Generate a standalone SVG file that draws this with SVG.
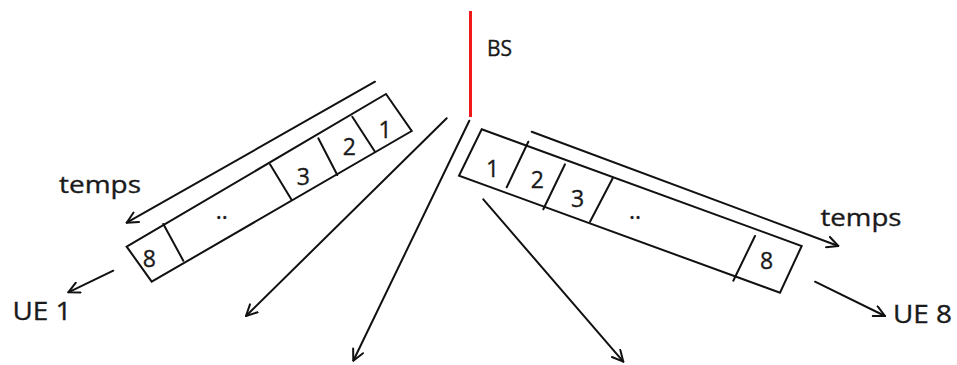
<svg xmlns="http://www.w3.org/2000/svg" width="957" height="365" viewBox="0 0 957 365">
<style>
.ln{stroke:#111;stroke-width:2;fill:none;stroke-linecap:round}
.box{stroke:#111;stroke-width:2;fill:#fff;stroke-linejoin:miter}
.t{font-family:"Open Sans","Liberation Sans",sans-serif;fill:#1a1a1a;stroke:#1a1a1a;stroke-width:0.35}
.d{font-size:23px;text-anchor:middle}
.lbl{font-size:24px}
</style>
<defs>
<marker id="ah" viewBox="0 0 13 13" refX="12" refY="6.5" markerWidth="13" markerHeight="13" markerUnits="userSpaceOnUse" orient="auto">
<path d="M1,1 L12,6.5 L1,12" fill="none" stroke="#111" stroke-width="2" stroke-linecap="round" stroke-linejoin="round"/>
</marker>
</defs>
<rect width="957" height="365" fill="#fff"/>

<g id="bs">
<line x1="470.5" y1="11" x2="470.5" y2="117" stroke="#f01818" stroke-width="3"/>
<text class="t" x="487" y="56" font-size="21">BS</text>
</g>

<g id="connectors">
<line class="ln" x1="375" y1="81.7" x2="126.7" y2="222.7" marker-end="url(#ah)"/>
<line class="ln" x1="531.7" y1="131.7" x2="838.3" y2="246" marker-end="url(#ah)"/>
<line class="ln" x1="113.3" y1="270.7" x2="68.3" y2="292.3" marker-end="url(#ah)"/>
<line class="ln" x1="815" y1="281.7" x2="885" y2="316" marker-end="url(#ah)"/>
<line class="ln" x1="446.7" y1="118.3" x2="246" y2="316" marker-end="url(#ah)"/>
<line class="ln" x1="469.3" y1="120.7" x2="353.3" y2="360.7" marker-end="url(#ah)"/>
<line class="ln" x1="483.3" y1="199.3" x2="623.3" y2="361.7" marker-end="url(#ah)"/>
</g>

<g id="left-box">
<polygon class="box" points="126.7,246.7 386,94 411.7,131 151.7,281.7"/>
<line class="ln" x1="163.3" y1="224" x2="183.3" y2="260.7"/>
<line class="ln" x1="270" y1="164.3" x2="291.7" y2="200"/>
<line class="ln" x1="318.3" y1="138.3" x2="337.3" y2="175"/>
<line class="ln" x1="352.3" y1="116.7" x2="375" y2="151.7"/>
<text class="t d" x="385" y="137.5">1</text>
<text class="t d" x="349.3" y="155">2</text>
<text class="t d" x="303.3" y="184.5">3</text>
<text class="t d" x="221.7" y="219">..</text>
<text class="t d" x="149.3" y="266.5">8</text>
</g>

<g id="right-box">
<polygon class="box" points="481.7,129.3 801.7,246 780,292.7 459,175.7"/>
<line class="ln" x1="528.3" y1="141.7" x2="506.7" y2="187.3"/>
<line class="ln" x1="565" y1="164.3" x2="543.3" y2="209.3"/>
<line class="ln" x1="612.7" y1="178.3" x2="590" y2="221.7"/>
<line class="ln" x1="755" y1="236" x2="733.3" y2="280.7"/>
<text class="t d" x="492.7" y="176.5">1</text>
<text class="t d" x="537.3" y="187.5">2</text>
<text class="t d" x="577.7" y="206.5">3</text>
<text class="t d" x="635" y="219">..</text>
<text class="t d" x="766.7" y="269">8</text>
</g>

<g id="temps-left">
<text class="t lbl" x="59" y="193" textLength="82" lengthAdjust="spacingAndGlyphs">temps</text>
</g>
<g id="temps-right">
<text class="t lbl" x="820.5" y="226" textLength="81" lengthAdjust="spacingAndGlyphs">temps</text>
</g>
<g id="ue1">
<text class="t" x="12.5" y="319.5" font-size="25" textLength="59" lengthAdjust="spacingAndGlyphs">UE 1</text>
</g>
<g id="ue8">
<text class="t" x="893" y="322.5" font-size="25" textLength="59" lengthAdjust="spacingAndGlyphs">UE 8</text>
</g>
</svg>
